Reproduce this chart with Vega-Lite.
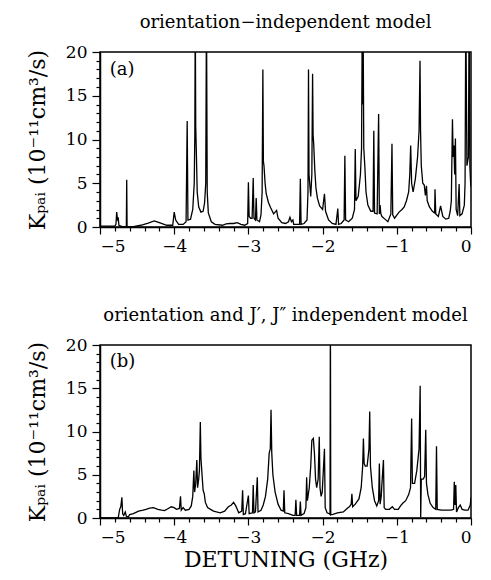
{
  "$schema": "https://vega.github.io/schema/vega-lite/v6.json",
  "padding": {"left": 25, "top": 13, "right": 8, "bottom": 5},
  "background": "white",
  "spacing": 51,
  "config": {
    "view": {"stroke": "black", "strokeWidth": 1.5},
    "font": "DejaVu Serif",
    "title": {"font": "DejaVu Serif", "fontSize": 18, "fontWeight": "normal", "color": "black", "offset": 11},
    "axis": {
      "labelFont": "DejaVu Serif", "labelFontSize": 17, "labelColor": "black",
      "titleFont": "DejaVu Serif", "titleFontWeight": "normal", "titleColor": "black",
      "tickColor": "black", "domainColor": "black", "domainWidth": 1.5, "tickWidth": 1.2,
      "grid": false
    }
  },
  "datasets": {
    "a": [
      {"x": -5.0, "y": 0.1}, {"x": -4.8, "y": 0.1}, {"x": -4.785, "y": 0.3}, {"x": -4.775, "y": 1.7},
      {"x": -4.765, "y": 0.9}, {"x": -4.755, "y": 1.1}, {"x": -4.745, "y": 0.2}, {"x": -4.7, "y": 0.05},
      {"x": -4.645, "y": 0.05}, {"x": -4.64, "y": 5.4}, {"x": -4.635, "y": 0.05}, {"x": -4.55, "y": 0.05},
      {"x": -4.45, "y": 0.2}, {"x": -4.35, "y": 0.45}, {"x": -4.27, "y": 0.7}, {"x": -4.2, "y": 0.5},
      {"x": -4.1, "y": 0.2}, {"x": -4.02, "y": 0.2}, {"x": -4.0, "y": 1.7}, {"x": -3.98, "y": 0.8},
      {"x": -3.94, "y": 0.3}, {"x": -3.88, "y": 0.3}, {"x": -3.84, "y": 0.6}, {"x": -3.825, "y": 12.1},
      {"x": -3.815, "y": 0.8}, {"x": -3.78, "y": 0.9}, {"x": -3.75, "y": 2.0}, {"x": -3.73, "y": 5.0},
      {"x": -3.722, "y": 10.5}, {"x": -3.716, "y": 25}, {"x": -3.71, "y": 11.5}, {"x": -3.7, "y": 8.0},
      {"x": -3.69, "y": 4.0}, {"x": -3.67, "y": 2.3}, {"x": -3.64, "y": 1.7}, {"x": -3.61, "y": 1.8},
      {"x": -3.59, "y": 2.8}, {"x": -3.575, "y": 5.0}, {"x": -3.565, "y": 25}, {"x": -3.555, "y": 4.0},
      {"x": -3.54, "y": 1.6}, {"x": -3.5, "y": 0.6}, {"x": -3.45, "y": 0.3}, {"x": -3.35, "y": 0.2},
      {"x": -3.3, "y": 0.35}, {"x": -3.25, "y": 0.4}, {"x": -3.2, "y": 0.4}, {"x": -3.15, "y": 0.5},
      {"x": -3.1, "y": 0.3}, {"x": -3.05, "y": 0.2}, {"x": -3.01, "y": 0.4}, {"x": -3.0, "y": 5.1},
      {"x": -2.99, "y": 1.2}, {"x": -2.97, "y": 1.0}, {"x": -2.95, "y": 1.0}, {"x": -2.935, "y": 5.6},
      {"x": -2.925, "y": 1.0}, {"x": -2.905, "y": 0.8}, {"x": -2.895, "y": 3.3}, {"x": -2.885, "y": 0.8},
      {"x": -2.85, "y": 0.6}, {"x": -2.83, "y": 1.4}, {"x": -2.815, "y": 4.0}, {"x": -2.805, "y": 18.0},
      {"x": -2.798, "y": 7.5}, {"x": -2.79, "y": 7.0}, {"x": -2.775, "y": 5.0}, {"x": -2.76, "y": 3.8},
      {"x": -2.73, "y": 2.8}, {"x": -2.7, "y": 2.2}, {"x": -2.66, "y": 1.5}, {"x": -2.62, "y": 1.9},
      {"x": -2.6, "y": 1.0}, {"x": -2.55, "y": 0.5}, {"x": -2.5, "y": 0.4}, {"x": -2.46, "y": 0.6},
      {"x": -2.44, "y": 1.1}, {"x": -2.42, "y": 0.6}, {"x": -2.4, "y": 0.8}, {"x": -2.39, "y": 0.3},
      {"x": -2.31, "y": 0.3}, {"x": -2.3, "y": 5.5}, {"x": -2.29, "y": 0.3}, {"x": -2.25, "y": 0.4},
      {"x": -2.21, "y": 0.8}, {"x": -2.197, "y": 4.0}, {"x": -2.19, "y": 18.0}, {"x": -2.183, "y": 6.0},
      {"x": -2.16, "y": 3.5}, {"x": -2.145, "y": 6.0}, {"x": -2.135, "y": 17.5}, {"x": -2.128, "y": 10.5},
      {"x": -2.12, "y": 9.5}, {"x": -2.105, "y": 6.5}, {"x": -2.09, "y": 4.5}, {"x": -2.07, "y": 3.3},
      {"x": -2.04, "y": 2.4}, {"x": -2.0, "y": 2.0}, {"x": -1.975, "y": 3.8}, {"x": -1.96, "y": 1.8},
      {"x": -1.92, "y": 0.8}, {"x": -1.87, "y": 0.4}, {"x": -1.82, "y": 0.3}, {"x": -1.795, "y": 2.1},
      {"x": -1.785, "y": 0.3}, {"x": -1.75, "y": 0.4}, {"x": -1.71, "y": 0.8}, {"x": -1.7, "y": 8.15},
      {"x": -1.69, "y": 0.8}, {"x": -1.65, "y": 0.6}, {"x": -1.6, "y": 1.0}, {"x": -1.57, "y": 2.0},
      {"x": -1.56, "y": 8.9}, {"x": -1.55, "y": 3.0}, {"x": -1.52, "y": 3.5}, {"x": -1.49, "y": 6.0},
      {"x": -1.475, "y": 9.0}, {"x": -1.465, "y": 25}, {"x": -1.46, "y": 14}, {"x": -1.455, "y": 25},
      {"x": -1.445, "y": 9.0}, {"x": -1.43, "y": 6.8}, {"x": -1.415, "y": 4.0}, {"x": -1.39, "y": 2.5},
      {"x": -1.35, "y": 1.8}, {"x": -1.32, "y": 1.8}, {"x": -1.31, "y": 11.0}, {"x": -1.3, "y": 1.6},
      {"x": -1.265, "y": 1.5}, {"x": -1.245, "y": 12.9}, {"x": -1.235, "y": 1.5}, {"x": -1.225, "y": 2.5},
      {"x": -1.215, "y": 1.5}, {"x": -1.2, "y": 1.2}, {"x": -1.16, "y": 0.9}, {"x": -1.12, "y": 0.6},
      {"x": -1.08, "y": 1.5}, {"x": -1.065, "y": 9.5}, {"x": -1.055, "y": 1.4}, {"x": -1.03, "y": 1.0},
      {"x": -0.97, "y": 1.7}, {"x": -0.93, "y": 2.0}, {"x": -0.9, "y": 2.3}, {"x": -0.87, "y": 3.0},
      {"x": -0.84, "y": 4.0}, {"x": -0.825, "y": 6.0}, {"x": -0.813, "y": 9.3}, {"x": -0.8, "y": 5.0},
      {"x": -0.78, "y": 4.0}, {"x": -0.75, "y": 5.5}, {"x": -0.72, "y": 8.0}, {"x": -0.7, "y": 11.0},
      {"x": -0.687, "y": 19.0}, {"x": -0.68, "y": 11.0}, {"x": -0.67, "y": 7.0}, {"x": -0.65, "y": 5.0},
      {"x": -0.63, "y": 4.8}, {"x": -0.615, "y": 3.6}, {"x": -0.6, "y": 4.7}, {"x": -0.59, "y": 3.0},
      {"x": -0.56, "y": 2.3}, {"x": -0.52, "y": 1.8}, {"x": -0.49, "y": 1.6}, {"x": -0.485, "y": 4.3},
      {"x": -0.475, "y": 1.5}, {"x": -0.44, "y": 1.2}, {"x": -0.41, "y": 2.4}, {"x": -0.38, "y": 1.2},
      {"x": -0.34, "y": 0.9}, {"x": -0.3, "y": 1.0}, {"x": -0.28, "y": 1.8}, {"x": -0.265, "y": 3.0},
      {"x": -0.25, "y": 12.3}, {"x": -0.24, "y": 8.0}, {"x": -0.23, "y": 9.3}, {"x": -0.22, "y": 6.0},
      {"x": -0.21, "y": 10.1}, {"x": -0.2, "y": 2.0}, {"x": -0.18, "y": 1.3}, {"x": -0.16, "y": 4.9},
      {"x": -0.15, "y": 1.3}, {"x": -0.12, "y": 1.5}, {"x": -0.09, "y": 2.5}, {"x": -0.08, "y": 5.0},
      {"x": -0.07, "y": 25}, {"x": -0.055, "y": 7.0}, {"x": -0.035, "y": 8.0}, {"x": -0.025, "y": 25},
      {"x": -0.015, "y": 6.9}, {"x": -0.005, "y": 5.0}, {"x": 0.0, "y": 4.6}
    ],
    "b": [
      {"x": -5.0, "y": 0.0}, {"x": -4.755, "y": 0.0}, {"x": -4.735, "y": 1.0}, {"x": -4.72, "y": 1.3},
      {"x": -4.705, "y": 2.4}, {"x": -4.695, "y": 0.5}, {"x": -4.68, "y": 0.3}, {"x": -4.66, "y": 0.7},
      {"x": -4.645, "y": 0.2}, {"x": -4.62, "y": 0.1}, {"x": -4.6, "y": 0.4}, {"x": -4.55, "y": 0.5},
      {"x": -4.48, "y": 0.8}, {"x": -4.42, "y": 0.9}, {"x": -4.38, "y": 1.0}, {"x": -4.33, "y": 1.15},
      {"x": -4.28, "y": 1.2}, {"x": -4.22, "y": 1.0}, {"x": -4.17, "y": 0.9}, {"x": -4.13, "y": 0.85},
      {"x": -4.08, "y": 1.1}, {"x": -4.04, "y": 1.3}, {"x": -4.0, "y": 1.2}, {"x": -3.97, "y": 1.0},
      {"x": -3.93, "y": 1.1}, {"x": -3.915, "y": 2.5}, {"x": -3.905, "y": 0.9}, {"x": -3.88, "y": 1.2},
      {"x": -3.85, "y": 0.9}, {"x": -3.8, "y": 1.0}, {"x": -3.77, "y": 1.4}, {"x": -3.75, "y": 2.5},
      {"x": -3.735, "y": 5.5}, {"x": -3.725, "y": 3.0}, {"x": -3.71, "y": 4.0}, {"x": -3.695, "y": 6.7},
      {"x": -3.685, "y": 3.5}, {"x": -3.67, "y": 4.5}, {"x": -3.66, "y": 5.5}, {"x": -3.648, "y": 11.1},
      {"x": -3.64, "y": 7.0}, {"x": -3.625, "y": 5.0}, {"x": -3.61, "y": 3.2}, {"x": -3.595, "y": 2.8},
      {"x": -3.58, "y": 1.8}, {"x": -3.55, "y": 1.2}, {"x": -3.51, "y": 1.0}, {"x": -3.47, "y": 0.8},
      {"x": -3.43, "y": 0.7}, {"x": -3.38, "y": 0.6}, {"x": -3.32, "y": 0.8}, {"x": -3.27, "y": 1.3},
      {"x": -3.23, "y": 1.5}, {"x": -3.2, "y": 1.8}, {"x": -3.17, "y": 1.4}, {"x": -3.13, "y": 0.6},
      {"x": -3.09, "y": 0.8}, {"x": -3.078, "y": 3.2}, {"x": -3.068, "y": 0.4}, {"x": -3.04, "y": 0.5},
      {"x": -3.0, "y": 2.6}, {"x": -2.99, "y": 0.5}, {"x": -2.945, "y": 0.6}, {"x": -2.935, "y": 3.8},
      {"x": -2.925, "y": 0.6}, {"x": -2.905, "y": 0.7}, {"x": -2.88, "y": 4.7}, {"x": -2.87, "y": 0.7},
      {"x": -2.83, "y": 0.9}, {"x": -2.8, "y": 1.5}, {"x": -2.77, "y": 2.5}, {"x": -2.74, "y": 4.5},
      {"x": -2.72, "y": 7.5}, {"x": -2.705, "y": 8.0}, {"x": -2.695, "y": 12.5}, {"x": -2.685, "y": 7.5},
      {"x": -2.67, "y": 5.0}, {"x": -2.64, "y": 3.0}, {"x": -2.6, "y": 1.6}, {"x": -2.56, "y": 0.9},
      {"x": -2.53, "y": 0.8}, {"x": -2.52, "y": 3.2}, {"x": -2.51, "y": 0.6}, {"x": -2.46, "y": 0.5},
      {"x": -2.4, "y": 0.3}, {"x": -2.37, "y": 0.3}, {"x": -2.36, "y": 2.1}, {"x": -2.35, "y": 0.3},
      {"x": -2.31, "y": 0.3}, {"x": -2.3, "y": 1.9}, {"x": -2.29, "y": 0.3}, {"x": -2.25, "y": 0.5},
      {"x": -2.225, "y": 1.2}, {"x": -2.215, "y": 4.7}, {"x": -2.205, "y": 2.0}, {"x": -2.18, "y": 3.5},
      {"x": -2.16, "y": 6.0}, {"x": -2.145, "y": 9.0}, {"x": -2.125, "y": 9.2}, {"x": -2.11, "y": 7.5},
      {"x": -2.095, "y": 4.5}, {"x": -2.08, "y": 3.5}, {"x": -2.06, "y": 4.5}, {"x": -2.045, "y": 9.4},
      {"x": -2.035, "y": 3.5}, {"x": -2.02, "y": 2.5}, {"x": -2.005, "y": 3.0}, {"x": -1.975, "y": 8.0},
      {"x": -1.965, "y": 1.2}, {"x": -1.94, "y": 0.6}, {"x": -1.91, "y": 0.5}, {"x": -1.9, "y": 0.4},
      {"x": -1.895, "y": 25}, {"x": -1.89, "y": 0.4}, {"x": -1.87, "y": 0.4}, {"x": -1.8, "y": 0.6},
      {"x": -1.72, "y": 0.7}, {"x": -1.67, "y": 1.1}, {"x": -1.64, "y": 1.3}, {"x": -1.615, "y": 1.6},
      {"x": -1.605, "y": 2.8}, {"x": -1.595, "y": 1.3}, {"x": -1.56, "y": 1.6}, {"x": -1.51, "y": 2.2},
      {"x": -1.48, "y": 3.5}, {"x": -1.46, "y": 6.0}, {"x": -1.45, "y": 9.2}, {"x": -1.44, "y": 6.3},
      {"x": -1.425, "y": 6.0}, {"x": -1.4, "y": 6.0}, {"x": -1.375, "y": 8.0}, {"x": -1.365, "y": 12.3},
      {"x": -1.355, "y": 6.0}, {"x": -1.33, "y": 3.5}, {"x": -1.3, "y": 2.0}, {"x": -1.27, "y": 1.4},
      {"x": -1.245, "y": 2.0}, {"x": -1.235, "y": 6.3}, {"x": -1.225, "y": 1.6}, {"x": -1.21, "y": 2.5},
      {"x": -1.2, "y": 4.0}, {"x": -1.18, "y": 6.7}, {"x": -1.17, "y": 1.2}, {"x": -1.15, "y": 1.0},
      {"x": -1.1, "y": 1.0}, {"x": -1.06, "y": 1.3}, {"x": -1.03, "y": 1.0}, {"x": -0.98, "y": 1.0},
      {"x": -0.95, "y": 1.4}, {"x": -0.92, "y": 1.7}, {"x": -0.88, "y": 2.0}, {"x": -0.84, "y": 2.7},
      {"x": -0.815, "y": 3.5}, {"x": -0.8, "y": 11.5}, {"x": -0.79, "y": 4.0}, {"x": -0.76, "y": 4.0},
      {"x": -0.73, "y": 5.5}, {"x": -0.7, "y": 8.0}, {"x": -0.685, "y": 15.3}, {"x": -0.678, "y": 0.1},
      {"x": -0.67, "y": 4.5}, {"x": -0.645, "y": 4.5}, {"x": -0.625, "y": 4.8}, {"x": -0.61, "y": 10.2},
      {"x": -0.6, "y": 4.0}, {"x": -0.58, "y": 2.7}, {"x": -0.55, "y": 1.7}, {"x": -0.51, "y": 1.2},
      {"x": -0.475, "y": 1.0}, {"x": -0.465, "y": 8.3}, {"x": -0.455, "y": 1.0}, {"x": -0.4, "y": 0.9},
      {"x": -0.33, "y": 0.9}, {"x": -0.27, "y": 0.9}, {"x": -0.235, "y": 1.0}, {"x": -0.225, "y": 4.2},
      {"x": -0.215, "y": 1.5}, {"x": -0.205, "y": 3.8}, {"x": -0.195, "y": 0.7}, {"x": -0.17, "y": 1.2},
      {"x": -0.145, "y": 1.5}, {"x": -0.12, "y": 1.0}, {"x": -0.08, "y": 0.9}, {"x": -0.04, "y": 0.9},
      {"x": -0.01, "y": 1.5}, {"x": 0.0, "y": 2.4}
    ]
  },
  "vconcat": [
    {
      "title": "orientation−independent model",
      "width": 371,
      "height": 175,
      "resolve": {"scale": {"x": "independent", "y": "independent"}, "axis": {"x": "independent", "y": "independent"}},
      "layer": [
        {
          "data": {"name": "a"},
          "mark": {"type": "line", "color": "black", "strokeWidth": 1.3, "clip": true},
          "encoding": {
            "x": {"field": "x", "type": "quantitative", "scale": {"domain": [-5, 0], "nice": false, "zero": false},
                  "axis": {"orient": "bottom", "title": null, "values": [-5, -4, -3, -2, -1, 0], "format": "d", "tickSize": 7, "labelPadding": 4}},
            "y": {"field": "y", "type": "quantitative", "scale": {"domain": [0, 20], "nice": false},
                  "axis": {"orient": "left", "values": [0, 5, 10, 15, 20], "format": "d", "tickSize": 8, "labelPadding": 5,
                           "title": "Kₚₐᵢ (10⁻¹¹cm³/s)", "titleFontSize": 22, "titlePadding": 16}}
          }
        },
        {
          "data": {"values": [{"x": -4.87, "y": 18, "label": "(a)"}]},
          "mark": {"type": "text", "align": "left", "baseline": "middle", "font": "DejaVu Serif", "fontSize": 18, "color": "black"},
          "encoding": {
            "x": {"field": "x", "type": "quantitative", "scale": {"domain": [-5, 0], "nice": false, "zero": false},
                  "axis": {"orient": "bottom", "title": null, "labels": false, "domain": false, "tickSize": 4,
                           "values": [-4.8, -4.6, -4.4, -4.2, -3.8, -3.6, -3.4, -3.2, -2.8, -2.6, -2.4, -2.2, -1.8, -1.6, -1.4, -1.2, -0.8, -0.6, -0.4, -0.2]}},
            "y": {"field": "y", "type": "quantitative", "scale": {"domain": [0, 20], "nice": false},
                  "axis": {"orient": "left", "title": null, "labels": false, "domain": false, "tickSize": 4,
                           "values": [1, 2, 3, 4, 6, 7, 8, 9, 11, 12, 13, 14, 16, 17, 18, 19]}},
            "text": {"field": "label"}
          }
        }
      ]
    },
    {
      "title": "orientation and J′, J″ independent model",
      "width": 371,
      "height": 173,
      "resolve": {"scale": {"x": "independent", "y": "independent"}, "axis": {"x": "independent", "y": "independent"}},
      "layer": [
        {
          "data": {"name": "b"},
          "mark": {"type": "line", "color": "black", "strokeWidth": 1.3, "clip": true},
          "encoding": {
            "x": {"field": "x", "type": "quantitative", "scale": {"domain": [-5, 0], "nice": false, "zero": false},
                  "axis": {"orient": "bottom", "title": "DETUNING (GHz)", "titleFontSize": 22, "titlePadding": 4, "values": [-5, -4, -3, -2, -1, 0], "format": "d", "tickSize": 7, "labelPadding": 4}},
            "y": {"field": "y", "type": "quantitative", "scale": {"domain": [0, 20], "nice": false},
                  "axis": {"orient": "left", "values": [0, 5, 10, 15, 20], "format": "d", "tickSize": 8, "labelPadding": 5,
                           "title": "Kₚₐᵢ (10⁻¹¹cm³/s)", "titleFontSize": 22, "titlePadding": 16}}
          }
        },
        {
          "data": {"values": [{"x": -4.87, "y": 18, "label": "(b)"}]},
          "mark": {"type": "text", "align": "left", "baseline": "middle", "font": "DejaVu Serif", "fontSize": 18, "color": "black"},
          "encoding": {
            "x": {"field": "x", "type": "quantitative", "scale": {"domain": [-5, 0], "nice": false, "zero": false},
                  "axis": {"orient": "bottom", "title": null, "labels": false, "domain": false, "tickSize": 4,
                           "values": [-4.8, -4.6, -4.4, -4.2, -3.8, -3.6, -3.4, -3.2, -2.8, -2.6, -2.4, -2.2, -1.8, -1.6, -1.4, -1.2, -0.8, -0.6, -0.4, -0.2]}},
            "y": {"field": "y", "type": "quantitative", "scale": {"domain": [0, 20], "nice": false},
                  "axis": {"orient": "left", "title": null, "labels": false, "domain": false, "tickSize": 4,
                           "values": [1, 2, 3, 4, 6, 7, 8, 9, 11, 12, 13, 14, 16, 17, 18, 19]}},
            "text": {"field": "label"}
          }
        }
      ]
    }
  ]
}
